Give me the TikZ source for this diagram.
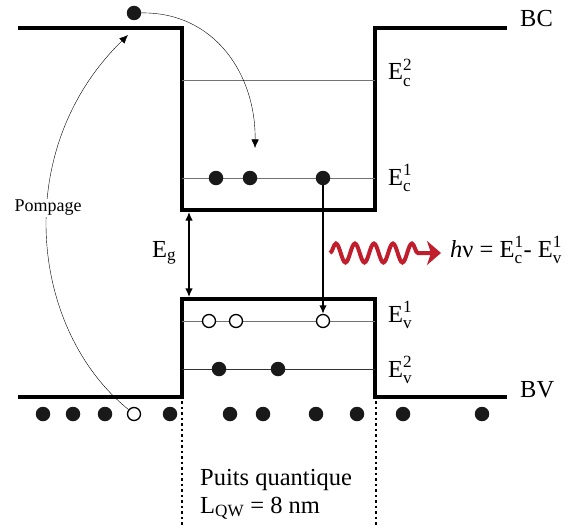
\documentclass[tikz,border=0pt]{standalone}
\usepackage{amsmath}
\usepackage{fontspec}
\setmainfont{Liberation Serif}
\usetikzlibrary{arrows.meta, positioning, decorations.pathmorphing}
\tikzset{>={Latex[width=2.6mm,length=3mm]}}
\definecolor{photon}{RGB}{192,30,45}

\begin{document}
\begin{tikzpicture}[x=1pt, y=-1pt, font=\fontsize{24.5}{27}\selectfont,
	band/.style = {line width=4.2pt, line join=miter},
	level/.style = {line width=1pt, black!55},
	elec/.style = {circle, fill=black!90, inner sep=0pt, minimum size=14.5pt},
	hole/.style = {circle, draw, fill=white, line width=1.3pt, inner sep=0pt, minimum size=13pt},
	lab/.style = {anchor=base west, inner sep=0pt}]
		\useasboundingbox (0,0) rectangle (578,527);
		% bandes
		\draw[band] (18,28) -- (182,28) -- (182,210) -- (375,210) -- (375,28) -- (507,28);
		\draw[band] (18,397) -- (182,397) -- (182,299) -- (375,299) -- (375,397) -- (507,397);
		\draw[level] (182,80) -- (375,80);
		\draw[level] (182,178) -- (375,178);
		\draw[level] (182,321) -- (375,321);
		\draw[level, black!80] (182,369) -- (375,369);
		\draw[line width=1.4pt, dash pattern=on 2.5pt off 3pt] (182,401) -- (182,527);
		\draw[line width=1.4pt, dash pattern=on 2.5pt off 3pt] (376,401) -- (376,527);
		% labels
		\node (BC) [lab] at (520,27) {BC};
		\node (BV) [lab] at (520,397) {BV};
		\node (Ec2) [lab] at (388,80) {E$^{\text{2}}_{\text{c}}$};
		\node (Ec1) [lab] at (388,185) {E$^{\text{1}}_{\text{c}}$};
		\node (Ev1) [lab] at (388,322) {E$^{\text{1}}_{\text{v}}$};
		\node (Ev2) [lab] at (388,377) {E$^{\text{2}}_{\text{v}}$};
		\node (Eg) [lab] at (152,257) {E$_{\text{g}}$};
		\node (hnu) [lab] at (450,257) {\textit{h}ν = E$^{\text{1}}_{\text{c}}$- E$^{\text{1}}_{\text{v}}$};
		\node (puits) [lab] at (200,485) {Puits quantique};
		\node (Lqw) [lab] at (200,513) {L$_{\text{QW}}$ = 8 nm};
		% electrons et trous
		\node (top) [elec] at (134,13) {};
		\node (c1) [elec] at (216,178) {};
		\node (c2) [elec] at (250,178) {};
		\node (c3) [elec] at (323,178) {};
		\node (h1) [hole] at (209,321) {};
		\node (h2) [hole] at (236,321) {};
		\node (h3) [hole] at (323,321) {};
		\node (v1) [elec] at (219,369) {};
		\node (v2) [elec] at (278,369) {};
		\foreach \x [count=\i] in {43,73,105,170,230,263,316,357,403,482}
			\node (b\i) [elec] at (\x,414) {};
		\node (bh) [hole] at (134,414) {};
		\coordinate (land) at (255,148);
		\coordinate (pump) at (128,35);
		\coordinate (gtop) at (189,212);
		\coordinate (gbot) at (189,297);
		\coordinate (wa) at (330,253);
		\coordinate (wb) at (441,253);
		% transitions
		\draw[->, thin] (top) .. controls (215,12) and (256,75) .. (land);
		\draw[->, thin] (bh) .. controls (30,330) and (10,150) .. (pump);
		\node (pompage) [fill=white, inner sep=1pt, font=\fontsize{18}{20}\selectfont] at (48,208) {Pompage};
		\draw[<->, line width=1.2pt] (gtop) -- (gbot);
		\draw[->, line width=1.4pt] (c3) -- (h3);
		\draw[photon, line width=4pt, decorate,
			decoration={snake, amplitude=9.5pt, segment length=19pt, post length=20pt},
			-{Stealth[length=14pt, width=24pt, inset=4pt]}] (wa) -- (wb);
\end{tikzpicture}
\end{document}
